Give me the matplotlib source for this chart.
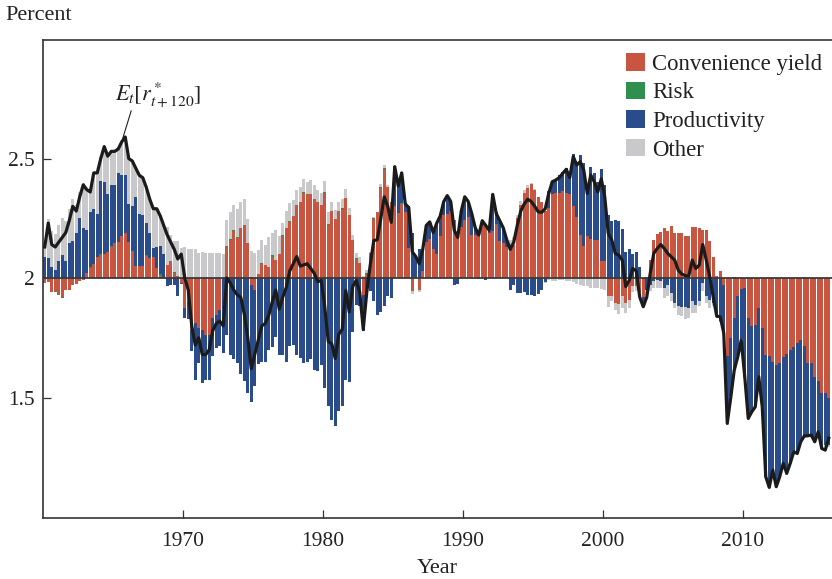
import matplotlib
matplotlib.use("Agg")
import matplotlib.pyplot as plt
import numpy as np

plt.rcParams['font.family'] = ['Liberation Serif', 'DejaVu Serif']
plt.rcParams['mathtext.fontset'] = 'stix'

START_YEAR = 1960

# Quarterly values, 1960Q1 .. 2016Q1 (percent)
expected_rstar = [
    2.13, 2.23, 2.14, 2.13, 2.15, 2.17, 2.19, 2.24, 2.30, 2.28, 2.34, 2.39, 2.37, 2.36, 2.44, 2.44,
    2.50, 2.55, 2.51, 2.53, 2.53, 2.54, 2.57, 2.59, 2.50, 2.49, 2.46, 2.43, 2.42, 2.38, 2.33, 2.29,
    2.29, 2.26, 2.22, 2.18, 2.15, 2.12, 2.08, 2.10, 2.00, 1.95, 1.80, 1.72, 1.75, 1.68, 1.68, 1.70,
    1.78, 1.81, 1.82, 1.80, 2.00, 1.98, 1.95, 1.93, 1.92, 1.85, 1.75, 1.62, 1.68, 1.74, 1.80, 1.81,
    1.845, 1.90, 1.95, 1.87, 1.92, 1.96, 2.03, 2.06, 2.09, 2.05, 2.055, 2.06, 2.04, 2.02, 1.985, 1.99,
    1.88, 1.735, 1.725, 1.663, 1.765, 1.785, 1.948, 1.858, 1.965, 1.99, 1.94, 1.785, 1.94, 2.055, 2.157, 2.16,
    2.248, 2.34, 2.30, 2.233, 2.466, 2.385, 2.44, 2.31, 2.295, 2.11, 2.09, 2.06, 2.12, 2.22, 2.235, 2.19,
    2.23, 2.26, 2.32, 2.345, 2.32, 2.20, 2.17, 2.28, 2.34, 2.32, 2.27, 2.21, 2.18, 2.24, 2.22, 2.20,
    2.35, 2.27, 2.24, 2.21, 2.16, 2.12, 2.15, 2.22, 2.28, 2.31, 2.33, 2.32, 2.30, 2.277, 2.275, 2.29,
    2.354, 2.403, 2.41, 2.42, 2.438, 2.455, 2.42, 2.508, 2.473, 2.487, 2.452, 2.354, 2.431, 2.403, 2.36, 2.415,
    2.34, 2.187, 2.159, 2.103, 2.096, 2.075, 1.964, 1.99, 2.04, 2.03, 1.92, 1.88, 1.92, 2.02, 2.103, 2.124,
    2.14, 2.124, 2.103, 2.089, 2.075, 2.033, 2.017, 2.01, 2.008, 2.075, 2.04, 2.054, 2.14, 2.075, 2.005, 1.92,
    1.84, 1.838, 1.77, 1.392, 1.50, 1.615, 1.67, 1.74, 1.587, 1.413, 1.44, 1.461, 1.587, 1.461, 1.169, 1.124,
    1.197, 1.127, 1.169, 1.225, 1.183, 1.225, 1.273, 1.266, 1.315, 1.339, 1.34, 1.343, 1.315, 1.357, 1.287, 1.28,
    1.33,
]

convenience_yield = [
    -0.02, -0.015, -0.057, -0.053, -0.07, -0.08, -0.05, -0.05, -0.03, -0.025, -0.014, -0.007, 0.02, 0.04, 0.06, 0.09,
    0.095, 0.10, 0.11, 0.13, 0.145, 0.15, 0.175, 0.19, 0.15, 0.115, 0.05, 0.05, 0.05, 0.093, 0.084, 0.088,
    0.04, 0.01, 0.0, 0.056, 0.07, 0.02, 0.01, -0.02, -0.125, -0.10, -0.216, -0.188, -0.21, -0.216, -0.237, -0.237,
    -0.167, -0.153, -0.135, 0.0, 0.13, 0.16, 0.195, 0.167, 0.21, 0.22, 0.146, -0.028, -0.05, 0.018, 0.06, 0.056,
    0.046, 0.09, 0.077, 0.10, 0.174, 0.21, 0.233, 0.258, 0.307, 0.32, 0.356, 0.35, 0.35, 0.33, 0.32, 0.307,
    0.356, 0.223, 0.279, 0.247, 0.282, 0.289, 0.335, 0.265, 0.16, 0.08, 0.063, -0.07, 0.018, 0.105, 0.247, 0.275,
    0.377, 0.456, 0.38, 0.314, 0.30, 0.272, 0.31, 0.275, 0.125, -0.056, 0.0, -0.049, 0.03, 0.15, 0.165, 0.12,
    0.10, 0.174, 0.265, 0.27, 0.28, 0.237, 0.174, 0.213, 0.244, 0.255, 0.18, 0.18, 0.18, 0.23, 0.227, 0.188,
    0.195, 0.223, 0.153, 0.146, 0.13, 0.12, 0.14, 0.25, 0.307, 0.356, 0.377, 0.395, 0.367, 0.34, 0.32, 0.28,
    0.293, 0.35, 0.355, 0.355, 0.363, 0.355, 0.35, 0.30, 0.255, 0.18, 0.133, 0.174, 0.163, 0.16, 0.16, 0.07,
    0.07, -0.077, -0.077, -0.105, -0.11, -0.077, -0.105, -0.09, -0.035, -0.035, -0.06, -0.08, 0.0, 0.077, 0.158, 0.185,
    0.192, 0.21, 0.195, 0.216, 0.188, 0.188, 0.188, 0.177, 0.177, 0.213, 0.213, 0.21, 0.20, 0.20, 0.153, 0.088,
    0.01, 0.028, -0.028, -0.328, -0.25, -0.167, -0.074, -0.046, -0.042, -0.167, -0.20, -0.195, -0.126, -0.21, -0.32, -0.328,
    -0.35, -0.363, -0.356, -0.33, -0.317, -0.303, -0.29, -0.27, -0.258, -0.283, -0.356, -0.356, -0.416, -0.43, -0.48, -0.48,
    -0.50,
]

risk = [
    0.0, 0.0, 0.0, -0.005, 0.0, -0.005, 0.0, 0.0, 0.0, 0.0, 0.005, 0.0, 0.0, 0.005, 0.0, 0.0,
    0.005, 0.0, 0.0, 0.005, 0.0, 0.0, 0.0, 0.0, 0.0, 0.0, 0.0, 0.0, 0.0, 0.005, 0.0, 0.0,
    0.0, 0.005, 0.0, 0.0, 0.0, 0.005, 0.0, 0.0, 0.0, 0.0, 0.0, 0.0, 0.0, 0.0, 0.0, 0.0,
    0.0, 0.0, 0.0, 0.0, 0.005, 0.005, 0.005, 0.005, 0.0, 0.0, 0.0, 0.005, 0.0, 0.0, 0.005, 0.0,
    0.0, 0.005, 0.0, 0.0, 0.005, 0.0, 0.005, 0.0, 0.0, 0.0, 0.005, 0.0, 0.0, 0.0, 0.0, 0.0,
    0.005, 0.005, 0.0, 0.0, 0.0, 0.005, 0.0, 0.0, 0.0, 0.005, 0.0, 0.0, 0.005, 0.0, 0.005, 0.0,
    0.005, 0.005, 0.0, 0.005, 0.0, 0.0, 0.005, 0.0, 0.0, 0.0, 0.0, 0.0, 0.0, 0.0, 0.0, 0.0,
    0.0, 0.0, 0.0, 0.0, 0.0, 0.005, 0.0, 0.0, 0.0, 0.0, 0.0, 0.0, 0.0, 0.0, 0.0, 0.0,
    0.0, 0.005, 0.0, 0.0, 0.0, 0.0, 0.0, 0.0, 0.0, 0.0, 0.0, 0.0, 0.0, 0.0, 0.0, 0.0,
    0.0, 0.0, 0.0, 0.0, 0.0, 0.0, 0.0, 0.0, 0.0, 0.0, 0.0, 0.0, 0.0, 0.0, 0.0, 0.0,
    0.0, 0.0, 0.0, 0.0, 0.0, 0.005, 0.0, 0.0, 0.0, 0.0, 0.005, 0.0, 0.005, 0.0, 0.0, 0.0,
    0.0, 0.0, 0.0, 0.0, 0.0, 0.0, 0.0, 0.0, 0.0, 0.0, 0.0, 0.0, 0.0, 0.0, 0.0, 0.0,
    0.0, 0.0, 0.0, 0.0, 0.0, 0.005, 0.0, 0.0, 0.0, 0.0, 0.0, 0.0, 0.0, 0.0, 0.0, 0.0,
    0.0, 0.0, 0.0, 0.0, 0.0, 0.0, 0.0, 0.0, 0.0, 0.005, 0.0, 0.0, 0.0, 0.0, 0.0, 0.0,
    0.0,
]

productivity = [
    0.09, 0.085, 0.045, 0.035, 0.07, 0.095, 0.07, 0.146, 0.155, 0.19, 0.245, 0.21, 0.18, 0.23, 0.23, 0.18,
    0.305, 0.30, 0.24, 0.255, 0.245, 0.29, 0.255, 0.24, 0.16, 0.185, 0.29, 0.22, 0.215, 0.134, 0.104, 0.038,
    0.09, 0.12, 0.10, -0.035, -0.03, -0.03, -0.077, -0.005, -0.042, -0.07, -0.09, -0.237, -0.146, -0.224, -0.188, -0.188,
    -0.16, -0.14, -0.151, -0.314, -0.237, -0.32, -0.34, -0.356, -0.40, -0.43, -0.48, -0.49, -0.40, -0.36, -0.35, -0.35,
    -0.30, -0.29, -0.247, -0.32, -0.32, -0.35, -0.286, -0.28, -0.32, -0.335, -0.355, -0.35, -0.34, -0.384, -0.39, -0.363,
    -0.46, -0.537, -0.593, -0.62, -0.558, -0.537, -0.425, -0.435, -0.227, -0.112, -0.118, -0.153, -0.063, -0.056, -0.098, -0.156,
    -0.14, -0.118, -0.077, -0.085, 0.167, 0.125, 0.13, 0.039, 0.175, 0.19, 0.09, 0.12, 0.09, 0.07, 0.07, 0.07,
    0.13, 0.086, 0.055, 0.075, 0.04, -0.03, -0.025, 0.07, 0.096, 0.06, 0.09, 0.03, -0.005, 0.01, -0.01, 0.01,
    0.155, 0.047, 0.08, 0.06, 0.03, -0.05, -0.03, -0.063, -0.063, -0.06, -0.07, -0.07, -0.074, -0.065, -0.05, -0.015,
    0.07, 0.05, 0.055, 0.075, 0.08, 0.105, 0.08, 0.22, 0.23, 0.336, 0.35, 0.216, 0.30, 0.28, 0.24, 0.386,
    0.32, 0.265, 0.24, 0.244, 0.24, 0.20, 0.11, 0.12, 0.10, 0.11, 0.04, -0.02, -0.05, -0.028, -0.014, -0.007,
    -0.014, -0.042, -0.028, -0.063, -0.105, -0.116, -0.12, -0.12, -0.126, -0.098, -0.112, -0.098, -0.02, -0.077, -0.09, -0.105,
    -0.146, -0.18, -0.20, -0.28, -0.245, -0.21, -0.254, -0.21, -0.37, -0.42, -0.36, -0.34, -0.285, -0.327, -0.51, -0.546,
    -0.45, -0.507, -0.474, -0.444, -0.50, -0.47, -0.435, -0.46, -0.425, -0.375, -0.30, -0.30, -0.27, -0.21, -0.23, -0.22,
    -0.20,
]

other = [
    0.06, 0.16, 0.152, 0.148, 0.15, 0.155, 0.17, 0.144, 0.175, 0.115, 0.109, 0.187, 0.17, 0.09, 0.15, 0.17,
    0.10, 0.15, 0.16, 0.145, 0.14, 0.10, 0.14, 0.16, 0.19, 0.19, 0.12, 0.16, 0.15, 0.153, 0.142, 0.164,
    0.16, 0.13, 0.12, 0.159, 0.11, 0.13, 0.147, 0.125, 0.13, 0.12, 0.12, 0.12, 0.106, 0.11, 0.105, 0.105,
    0.105, 0.105, 0.105, 0.10, 0.107, 0.11, 0.105, 0.116, 0.11, 0.11, 0.10, 0.107, 0.105, 0.098, 0.096, 0.084,
    0.124, 0.095, 0.123, 0.078, 0.05, 0.07, 0.074, 0.07, 0.063, 0.063, 0.054, 0.05, 0.06, 0.06, 0.047, 0.049,
    0.044, 0.049, 0.041, 0.036, 0.038, 0.036, 0.037, 0.028, 0.02, 0.02, 0.023, 0.01, 0.01, 0.005, 0.005, 0.003,
    0.013, 0.011, 0.01, 0.0, 0.0, 0.0, 0.0, 0.0, 0.0, -0.01, 0.0, -0.01, 0.0, 0.0, 0.0, 0.0,
    0.0, 0.0, 0.0, 0.0, 0.0, 0.0, 0.0, 0.0, 0.0, 0.0, 0.0, 0.0, 0.0, 0.0, 0.0, 0.0,
    0.0, 0.0, 0.01, 0.0, 0.0, 0.04, 0.03, 0.015, 0.014, 0.014, 0.014, 0.003, 0.006, 0.0, 0.0, -0.005,
    -0.008, -0.014, -0.014, -0.01, -0.01, -0.014, -0.014, -0.018, -0.024, -0.028, -0.032, -0.032, -0.042, -0.042, -0.042, -0.046,
    -0.05, -0.043, -0.02, -0.03, -0.04, -0.05, -0.04, -0.035, -0.025, -0.02, -0.02, -0.02, -0.02, -0.028, -0.028, -0.035,
    -0.028, -0.042, -0.049, -0.035, -0.021, -0.037, -0.04, -0.05, -0.042, -0.048, -0.035, -0.021, -0.035, -0.028, -0.035, -0.014,
    -0.01, -0.005, -0.005, -0.005, -0.005, -0.005, -0.005, -0.005, -0.005, -0.005, -0.005, -0.005, -0.005, -0.005, -0.005, -0.005,
    -0.005, -0.005, -0.005, -0.005, -0.005, -0.005, -0.005, -0.005, -0.005, -0.005, -0.005, -0.005, -0.005, -0.005, -0.005, -0.005,
    -0.005,
]

series_names = ["Convenience yield", "Risk", "Productivity", "Other"]
series_colors = ["#c8553f", "#2f8f4e", "#2b4c8a", "#c9c9cb"]
baseline = 2.0
x_ticks = [1970, 1980, 1990, 2000, 2010]
y_ticks = [1.5, 2.0, 2.5]
y_tick_labels = ["1.5", "2", "2.5"]

n = len(expected_rstar)
dates = START_YEAR + np.arange(n) * 0.25 + 0.125

fig = plt.figure(figsize=(8.32, 5.79), dpi=100)
ax = fig.add_axes([43 / 832, 61 / 579, 789 / 832, 478 / 579])

pos_bottom = np.full(n, baseline)
neg_bottom = np.full(n, baseline)
for name, vals, col in zip(series_names,
                           [convenience_yield, risk, productivity, other],
                           series_colors):
    v = np.asarray(vals, dtype=float)
    pos = np.where(v > 0, v, 0.0)
    neg = np.where(v < 0, v, 0.0)
    ax.bar(dates, pos, bottom=pos_bottom, width=0.19, color=col,
           linewidth=0, label=name, zorder=2)
    ax.bar(dates, neg, bottom=neg_bottom, width=0.19, color=col,
           linewidth=0, zorder=2)
    pos_bottom = pos_bottom + pos
    neg_bottom = neg_bottom + neg

ax.axhline(baseline, color="#3a3a3a", lw=1.3, zorder=3)
ax.plot(dates, expected_rstar, color="#1b1b1b", lw=2.3, zorder=4,
        solid_joinstyle="round")

ax.set_xlim(1960, 1960 + 789 / 14)
ax.set_ylim(0.996, 2.996)
ax.set_xticks(x_ticks)
ax.set_xticklabels([str(t) for t in x_ticks])
ax.set_yticks(y_ticks)
ax.set_yticklabels(y_tick_labels)
ax.tick_params(axis="both", direction="in", length=6, width=0.9,
               colors="#333333", labelsize=15.5, labelcolor="#222222")
ax.tick_params(axis="x", pad=10)
ax.tick_params(axis="y", pad=6)
for side in ["left", "top", "bottom"]:
    ax.spines[side].set_color("#333333")
    ax.spines[side].set_linewidth(1.2)
ax.spines["right"].set_visible(False)

ax.set_xlabel("Year", fontsize=16, color="#222222", labelpad=6)
fig.text(5 / 832, 1 - 16 / 579, "Percent", fontsize=16, color="#222222",
         ha="left", va="center")

ax.text(1968.25, 2.765, r"$E_t[r^*_{t+120}]$", fontsize=16,
        ha="center", va="center", color="#222222")
ax.annotate("", xy=(1965.7, 2.585), xytext=(1966.3, 2.70),
            arrowprops=dict(arrowstyle="-", lw=0.8, color="#222222",
                            shrinkA=0, shrinkB=0))

leg = ax.legend(loc="upper right", bbox_to_anchor=(1.0 + 6 / 789, 1.0 + 3 / 478),
                frameon=False, fontsize=16.4, handlelength=0.82, handleheight=0.82,
                handletextpad=0.3, labelspacing=0.3, borderaxespad=0.3)
for t in leg.get_texts():
    t.set_color("#222222")

fig.savefig("out.png", dpi=100)
